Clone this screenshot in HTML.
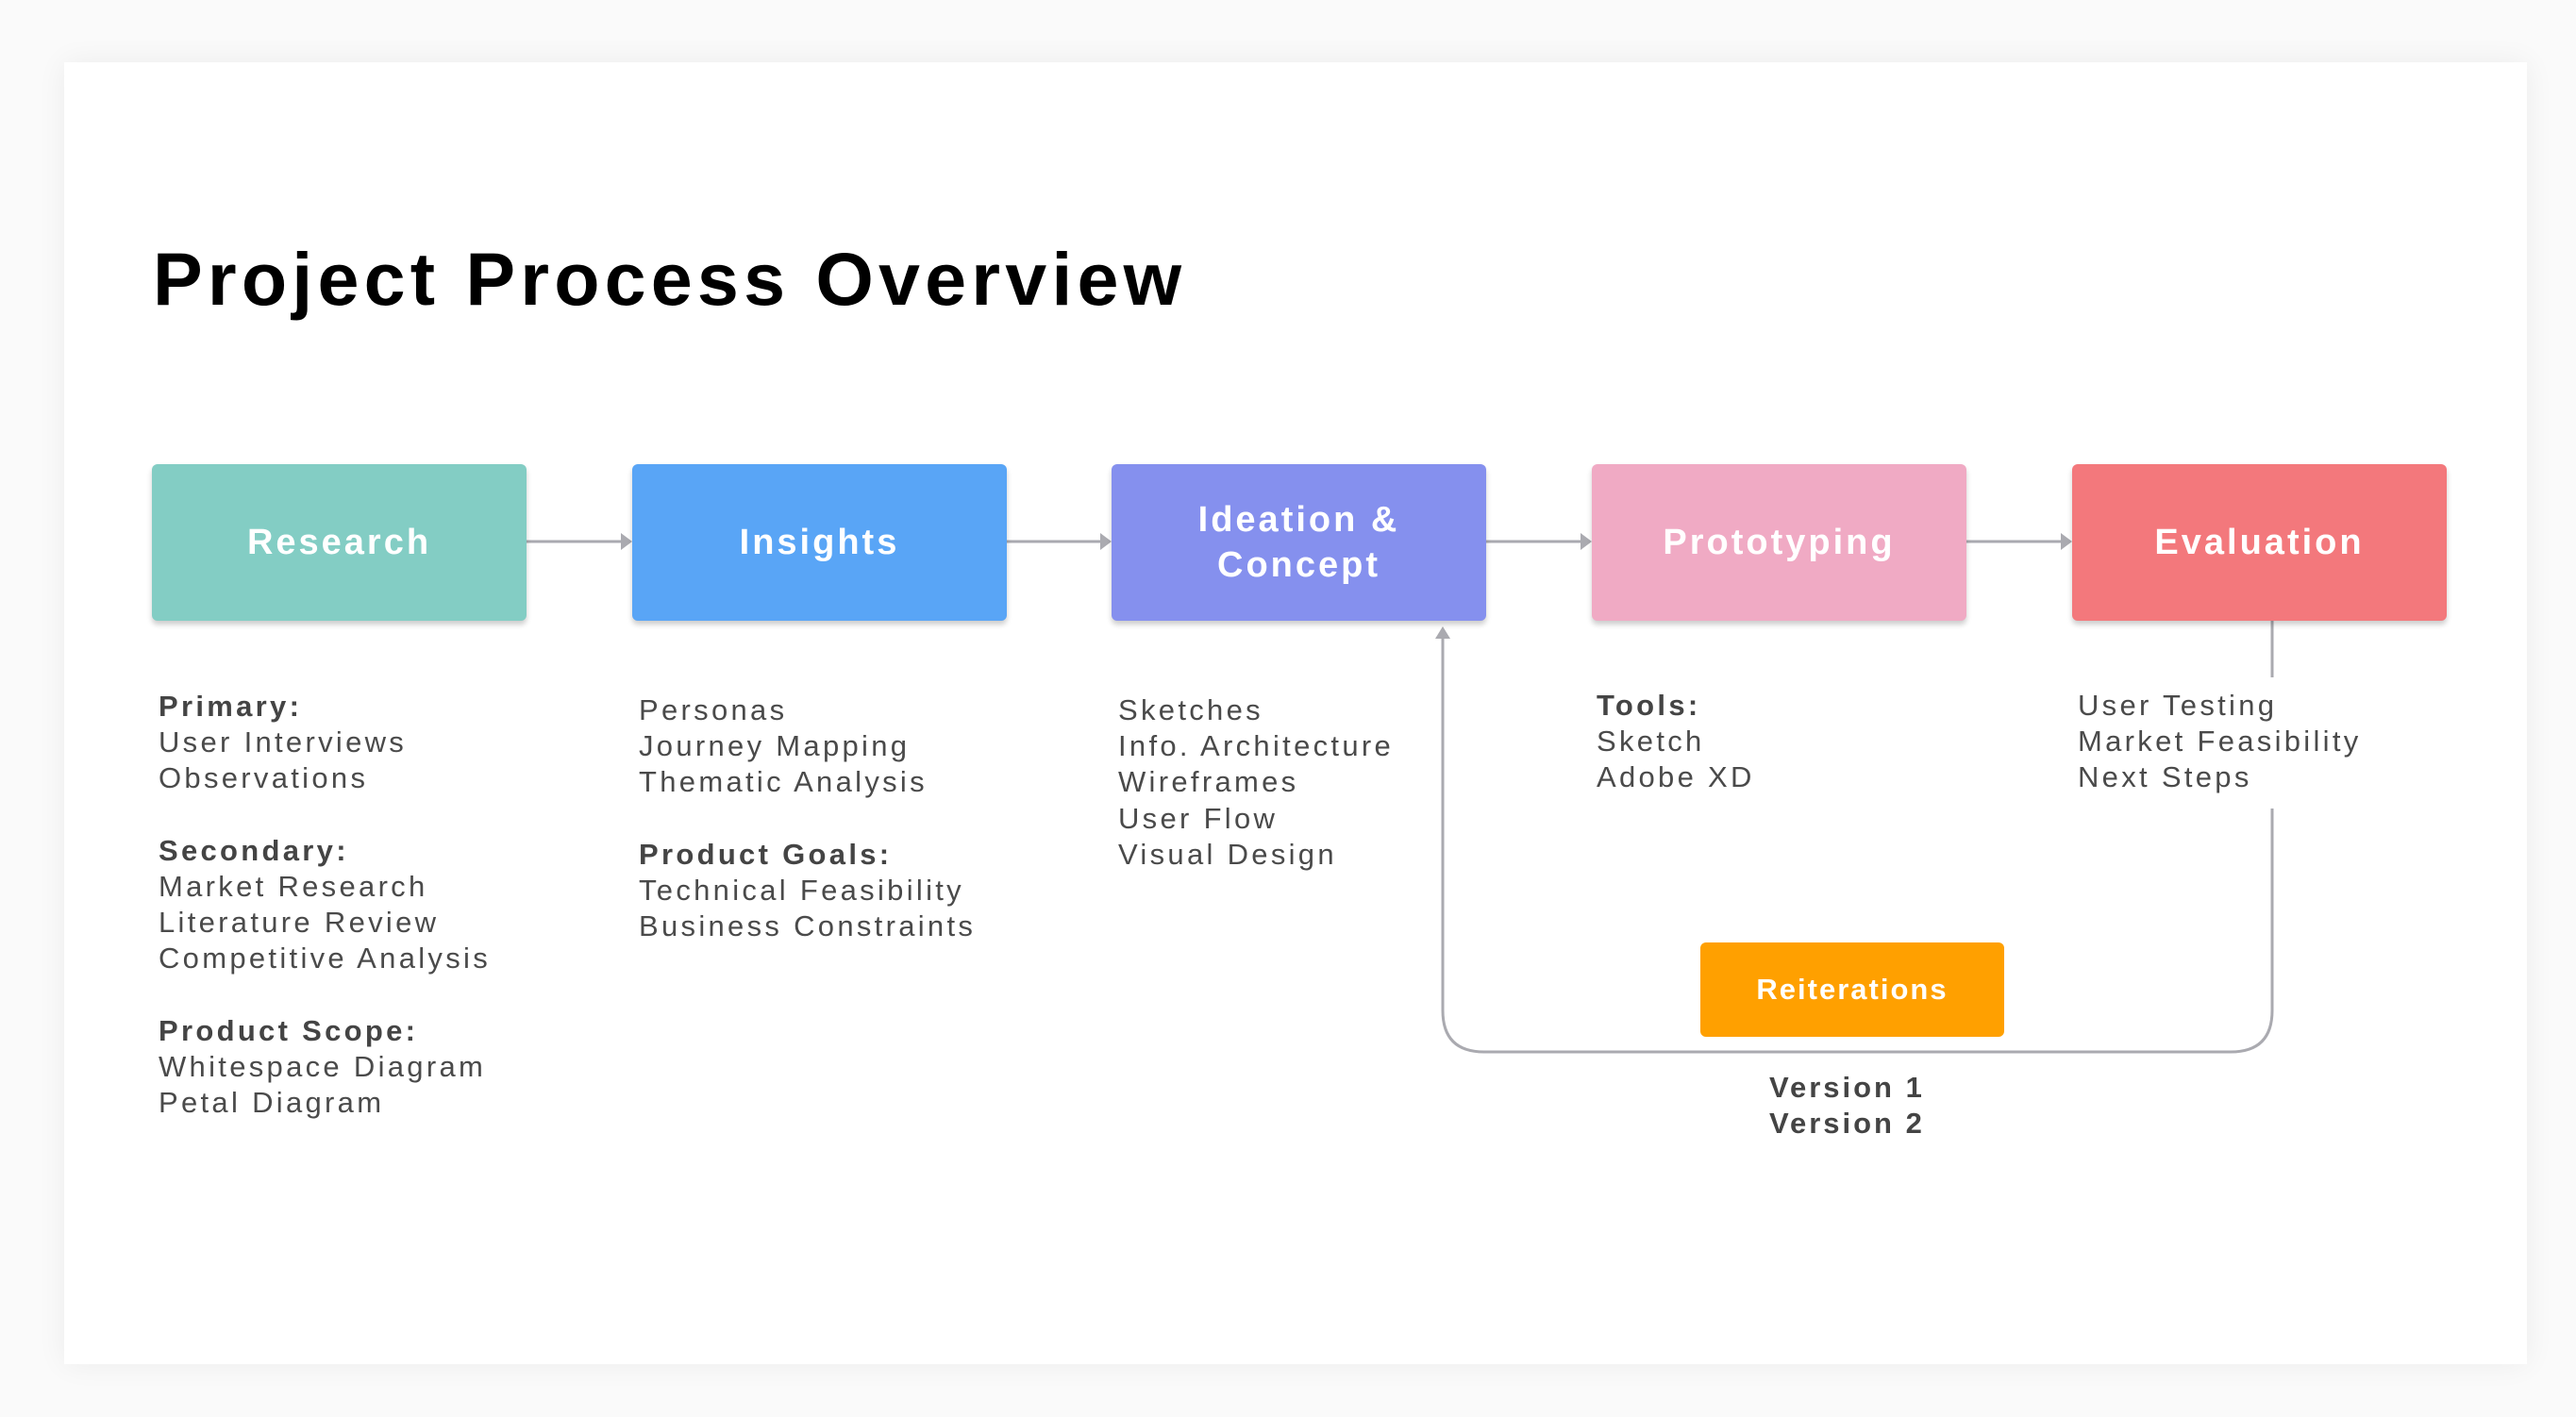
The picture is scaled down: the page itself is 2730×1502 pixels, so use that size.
<!DOCTYPE html>
<html><head><meta charset="utf-8"><style>
html,body{margin:0;padding:0;width:2730px;height:1502px;background:#fafafa;overflow:hidden;font-family:"Liberation Sans",sans-serif}
.card{position:absolute;left:68px;top:66px;width:2610px;height:1380px;background:#fff;box-shadow:0 0 30px rgba(0,0,0,0.06)}
.t{position:absolute;left:162px;top:250px;font-size:79px;font-weight:bold;letter-spacing:5.2px;color:#000;white-space:nowrap}
.b{position:absolute;top:492px;width:397px;height:166px;border-radius:6px;box-shadow:0 4px 6px rgba(0,0,0,0.2);color:#fff;font-weight:bold;font-size:38px;letter-spacing:3px;display:flex;align-items:center;justify-content:center;text-align:center;line-height:48px}
.x{position:absolute;font-size:31px;line-height:38.2px;color:#4a4a4a;letter-spacing:3.3px;white-space:nowrap}
.x b{color:#444}
</style></head><body>
<div class="card"></div>
<div class="t">Project Process Overview</div>
<svg width="2730" height="1502" style="position:absolute;left:0;top:0">
<g stroke="#aaaab0" stroke-width="3" fill="none">
<line x1="558" y1="574" x2="662" y2="574"/><line x1="1067" y1="574" x2="1170" y2="574"/>
<line x1="1575" y1="574" x2="1679" y2="574"/><line x1="2084" y1="574" x2="2188" y2="574"/>
<path d="M1529 672 V1071 Q1529 1115 1573 1115 H2364 Q2408 1115 2408 1071 V857"/>
<line x1="2408" y1="658" x2="2408" y2="718"/>
</g>
<g fill="#aaaab0">
<path d="M670 574 l-12 -9 v18z"/><path d="M1178 574 l-12 -9 v18z"/><path d="M1687 574 l-12 -9 v18z"/><path d="M2196 574 l-12 -9 v18z"/>
<path d="M1529 664 l-8 13 h16z"/>
</g>
</svg>
<div class="b" style="left:161px;background:#83cdc4">Research</div>
<div class="b" style="left:670px;background:#59a5f6">Insights</div>
<div class="b" style="left:1178px;background:#8590ee">Ideation &amp;<br>Concept</div>
<div class="b" style="left:1687px;background:#f0aac4">Prototyping</div>
<div class="b" style="left:2196px;background:#f3787c">Evaluation</div>
<div class="b" style="left:1802px;top:999px;width:322px;height:100px;background:#ffa000;font-size:31px;box-shadow:none;letter-spacing:2px">Reiterations</div>
<div class="x" style="left:168px;top:730px"><b>Primary:</b><br>User Interviews<br>Observations<br><br><b>Secondary:</b><br>Market Research<br>Literature Review<br>Competitive Analysis<br><br><b>Product Scope:</b><br>Whitespace Diagram<br>Petal Diagram</div>
<div class="x" style="left:677px;top:734px">Personas<br>Journey Mapping<br>Thematic Analysis<br><br><b>Product Goals:</b><br>Technical Feasibility<br>Business Constraints</div>
<div class="x" style="left:1185px;top:734px">Sketches<br>Info. Architecture<br>Wireframes<br>User Flow<br>Visual Design</div>
<div class="x" style="left:1692px;top:729px"><b>Tools:</b><br>Sketch<br>Adobe XD</div>
<div class="x" style="left:2202px;top:729px">User Testing<br>Market Feasibility<br>Next Steps</div>
<div class="x" style="left:1875px;top:1134px;letter-spacing:3px"><b>Version 1<br>Version 2</b></div>
</body></html>
